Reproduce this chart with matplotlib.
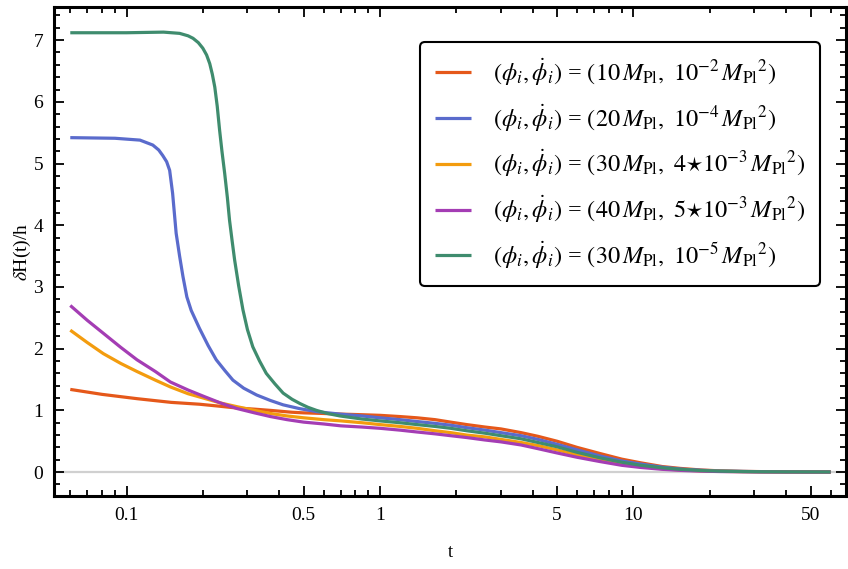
import matplotlib
matplotlib.use("Agg")
import matplotlib.pyplot as plt
from matplotlib.ticker import FixedLocator, NullFormatter

plt.rcParams["font.family"] = "Liberation Serif"
plt.rcParams["mathtext.fontset"] = "stix"

# Data
t_red = [0.06, 0.08, 0.11, 0.15, 0.194, 0.23, 0.27, 0.32, 0.37, 0.45, 0.5, 0.6, 0.7,
         0.85, 1.0, 1.2, 1.4, 1.65, 1.9, 2.2, 2.6, 3.0, 3.6, 4.2, 5.0, 6.0, 7.4, 9.0,
         10.7, 13.0, 15.3, 18.4, 22, 27, 32, 40, 50, 60]
v_red = [1.34, 1.26, 1.19, 1.13, 1.10, 1.07, 1.04, 1.02, 1.00, 0.97, 0.96, 0.95, 0.94,
         0.93, 0.92, 0.90, 0.88, 0.85, 0.81, 0.77, 0.73, 0.70, 0.64, 0.58, 0.50, 0.40,
         0.30, 0.21, 0.15, 0.09, 0.06, 0.035, 0.02, 0.012, 0.008, 0.005, 0.003, 0.002]

t_blue = [0.06, 0.09, 0.113, 0.127, 0.134, 0.139, 0.144, 0.148, 0.152, 0.157, 0.162,
          0.167, 0.173, 0.18, 0.194, 0.21, 0.226, 0.245, 0.263, 0.29, 0.326, 0.37,
          0.415, 0.48, 0.562, 0.695, 0.85, 1.0, 1.2, 1.4, 1.65, 1.9, 2.2, 2.6, 3.0, 3.6,
          4.2, 5.0, 6.0, 7.4, 9.0, 10.7, 13.0, 15.3, 18.4, 22, 27, 32, 40, 50, 60]
v_blue = [5.42, 5.41, 5.38, 5.30, 5.22, 5.13, 5.03, 4.89, 4.52, 3.87, 3.50, 3.17, 2.84,
          2.62, 2.33, 2.05, 1.82, 1.64, 1.49, 1.36, 1.25, 1.16, 1.09, 1.03, 0.98, 0.94,
          0.91, 0.88, 0.85, 0.82, 0.79, 0.76, 0.72, 0.68, 0.64, 0.59, 0.53, 0.45, 0.36,
          0.26, 0.18, 0.13, 0.08, 0.05, 0.03, 0.018, 0.011, 0.007, 0.004, 0.003, 0.002]

t_low = [0.06, 0.07, 0.081, 0.095, 0.11, 0.13, 0.149, 0.175, 0.201, 0.235, 0.273, 0.32,
         0.37, 0.43, 0.5, 0.6, 0.7, 0.85, 1.0, 1.2, 1.4, 1.65, 1.9, 2.2, 2.6, 3.0, 3.6,
         4.2, 5.0, 6.0, 7.4, 9.0, 10.7, 13.0, 15.3, 18.4, 22, 27, 32, 40, 50, 60]
v_orange = [2.30, 2.10, 1.92, 1.76, 1.63, 1.49, 1.38, 1.27, 1.20, 1.12, 1.06, 1.00,
            0.95, 0.91, 0.88, 0.85, 0.83, 0.80, 0.77, 0.74, 0.71, 0.67, 0.64, 0.60,
            0.57, 0.53, 0.48, 0.43, 0.36, 0.28, 0.20, 0.13, 0.09, 0.055, 0.035, 0.02,
            0.012, 0.007, 0.005, 0.003, 0.002, 0.001]
v_purple = [2.70, 2.46, 2.25, 2.02, 1.82, 1.63, 1.46, 1.33, 1.23, 1.12, 1.03, 0.96,
            0.90, 0.85, 0.81, 0.78, 0.75, 0.73, 0.71, 0.68, 0.65, 0.62, 0.59, 0.56,
            0.52, 0.49, 0.44, 0.38, 0.31, 0.24, 0.17, 0.11, 0.075, 0.045, 0.028, 0.016,
            0.009, 0.005, 0.003, 0.002, 0.001, 0.001]

t_green = [0.06, 0.1, 0.14, 0.162, 0.175, 0.183, 0.192, 0.2, 0.207, 0.213, 0.218, 0.223,
           0.228, 0.233, 0.238, 0.244, 0.25, 0.255, 0.261, 0.267, 0.277, 0.288, 0.3,
           0.315, 0.335, 0.356, 0.385, 0.415, 0.45, 0.484, 0.52, 0.562, 0.62, 0.695,
           0.85, 1.0, 1.2, 1.4, 1.65, 1.9, 2.2, 2.6, 3.0, 3.6, 4.2, 5.0, 6.0, 7.4, 9.0,
           10.7, 13.0, 15.3, 18.4, 22, 27, 32, 40, 50, 60]
v_green = [7.12, 7.12, 7.13, 7.11, 7.07, 7.03, 6.96, 6.87, 6.76, 6.62, 6.45, 6.24,
           5.93, 5.54, 5.20, 4.84, 4.45, 4.08, 3.75, 3.44, 3.02, 2.63, 2.31, 2.03,
           1.80, 1.60, 1.43, 1.28, 1.18, 1.11, 1.05, 1.00, 0.95, 0.91, 0.86, 0.83,
           0.80, 0.77, 0.74, 0.71, 0.67, 0.63, 0.59, 0.54, 0.48, 0.41, 0.32, 0.23,
           0.16, 0.11, 0.07, 0.045, 0.026, 0.015, 0.009, 0.006, 0.004, 0.003, 0.002]

labels = [
    r"$(\phi_i,\dot{\phi}_i)$ = $(10\,M_{\mathrm{Pl}},\ 10^{-2}\,M_{\mathrm{Pl}}{}^{2})$",
    r"$(\phi_i,\dot{\phi}_i)$ = $(20\,M_{\mathrm{Pl}},\ 10^{-4}\,M_{\mathrm{Pl}}{}^{2})$",
    r"$(\phi_i,\dot{\phi}_i)$ = $(30\,M_{\mathrm{Pl}},\ 4{\star}10^{-3}\,M_{\mathrm{Pl}}{}^{2})$",
    r"$(\phi_i,\dot{\phi}_i)$ = $(40\,M_{\mathrm{Pl}},\ 5{\star}10^{-3}\,M_{\mathrm{Pl}}{}^{2})$",
    r"$(\phi_i,\dot{\phi}_i)$ = $(30\,M_{\mathrm{Pl}},\ 10^{-5}\,M_{\mathrm{Pl}}{}^{2})$",
]
colors = ["#E5581A", "#5A6BCC", "#F39C0E", "#A43DB4", "#3F8C6E"]

fig = plt.figure(figsize=(8.48, 5.69), dpi=100)
ax = fig.add_axes([0.064, 0.128, 0.934, 0.86])

ax.axhline(0, color="#d0d0d0", lw=1.6, zorder=1)

series = [(t_red, v_red), (t_blue, v_blue), (t_low, v_orange), (t_low, v_purple),
          (t_green, v_green)]
for (t, v), c, lab in zip(series, colors, labels):
    ax.plot(t, v, color=c, lw=2.3, label=lab, solid_capstyle="butt",
            solid_joinstyle="round")

ax.set_xscale("log")
ax.set_xlim(10 ** -1.285, 10 ** 1.84)
ax.set_ylim(-0.39, 7.54)

major_x = [0.1, 0.5, 1, 5, 10, 50]
minor_x = [0.06, 0.07, 0.08, 0.09, 0.2, 0.3, 0.4, 0.6, 0.7, 0.8, 0.9,
           2, 3, 4, 6, 7, 8, 9, 20, 30, 40, 60]
ax.xaxis.set_major_locator(FixedLocator(major_x))
ax.xaxis.set_minor_locator(FixedLocator(minor_x))
ax.xaxis.set_minor_formatter(NullFormatter())
ax.set_xticklabels(["0.1", "0.5", "1", "5", "10", "50"])

ax.yaxis.set_major_locator(FixedLocator(range(0, 8)))
ax.yaxis.set_minor_locator(FixedLocator([i * 0.2 for i in range(-1, 38)]))

ax.tick_params(which="both", direction="in", top=True, right=True,
               labelsize=14, width=1.3, pad=8)
ax.tick_params(which="major", length=7)
ax.tick_params(which="minor", length=4)
for s in ax.spines.values():
    s.set_linewidth(2.2)

ax.set_xlabel("t", fontsize=13.5, labelpad=14)
ax.set_ylabel(r"$\delta$H(t)/h", fontsize=14, labelpad=0)

leg = ax.legend(loc="upper right", bbox_to_anchor=(0.967, 0.926),
                bbox_transform=fig.transFigure, borderaxespad=0,
                fontsize=17.5, handlelength=1.5, handletextpad=0.9,
                labelspacing=0.6, borderpad=0.6, fancybox=True, framealpha=1)
leg.get_frame().set_edgecolor("black")
leg.get_frame().set_linewidth(1.5)

fig.savefig("out.png", dpi=100)
